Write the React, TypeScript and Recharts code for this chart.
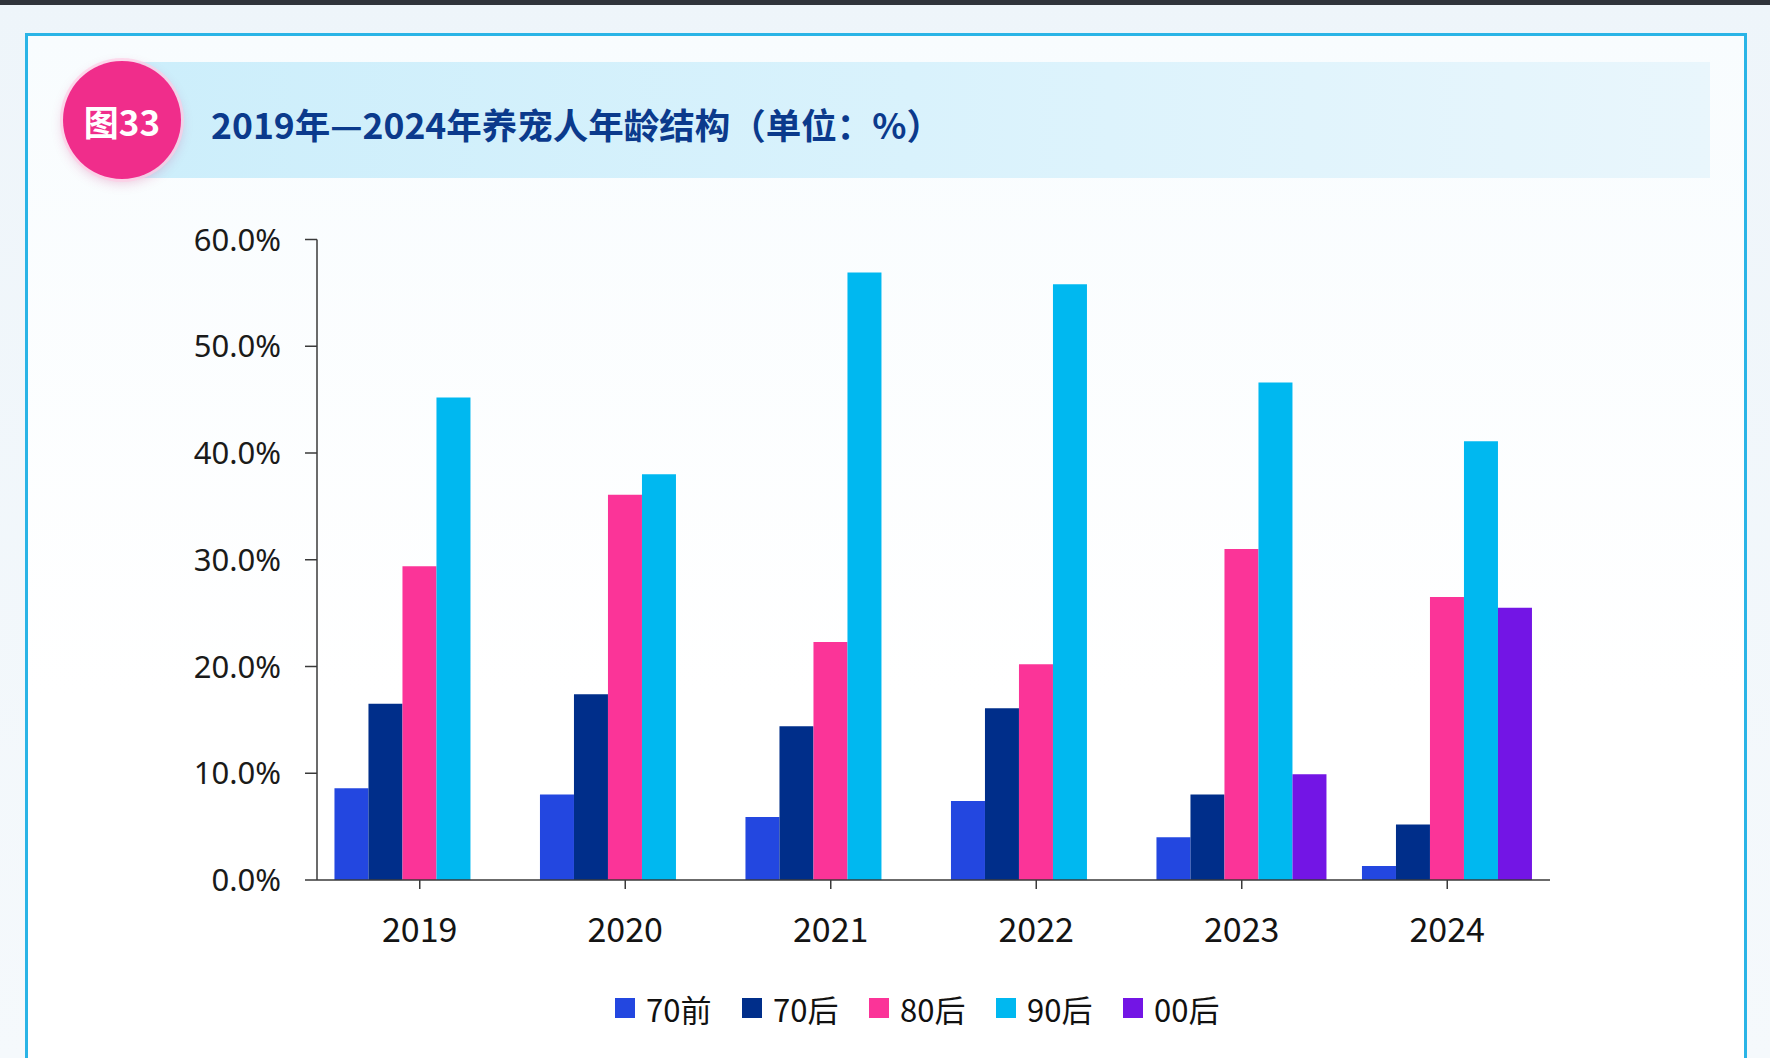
import React from 'react';
import { Bar, BarChart, XAxis, YAxis } from 'recharts';

const years = ['2019', '2020', '2021', '2022', '2023', '2024'];
const pre70 = [8.6, 8.0, 5.9, 7.4, 4.0, 1.3];
const post70 = [16.5, 17.4, 14.4, 16.1, 8.0, 5.2];
const post80 = [29.4, 36.1, 22.3, 20.2, 31.0, 26.5];
const post90 = [45.2, 38.0, 56.9, 55.8, 46.6, 41.1];
const post00 = [null, null, null, null, 9.9, 25.5];

const seriesNames = ['70前', '70后', '80后', '90后', '00后'];
const seriesColors = ['#2347E0', '#002E8A', '#FB3498', '#00B8F0', '#7315E5'];
const yTicks = [0, 10, 20, 30, 40, 50, 60];

const W = 1770;
const H = 1058;
const CJK = '"Noto Sans CJK SC", "Noto Sans", sans-serif';

const seriesValues = [pre70, post70, post80, post90, post00];
const data = years.map((year, i) => {
  const row: Record<string, string | number | null> = { year };
  seriesNames.forEach((name, s) => {
    row[name] = seriesValues[s][i];
  });
  return row;
});

// boundaries between year groups, drawn as longer ticks on a hidden numeric axis
const edgeTicks = years.map((_, i) => i).concat(years.length);

const YearTick = ({ x, y, payload }: any) => (
  <text
    x={x}
    y={y + 51}
    textAnchor="middle"
    fontSize={34}
    fontFamily={CJK}
    fill="#141414"
  >
    {payload.value}
  </text>
);

const NoLabel = () => <g />;

export default function App() {
  return (
    <div
      style={{
        position: 'absolute',
        left: 0,
        top: 0,
        width: W,
        height: H,
        overflow: 'hidden',
        background: 'linear-gradient(180deg, #EEF5FA 0%, #F5F9FC 100%)',
        fontFamily: CJK,
      }}
    >
      <div style={{ position: 'absolute', left: 0, top: 0, width: W, height: 5, background: '#30343B' }} />
      <div
        style={{
          position: 'absolute',
          left: 25,
          top: 33,
          width: 1716,
          height: 1100,
          border: '3px solid #2AB4E6',
          background: 'linear-gradient(180deg, #F8FCFE 0%, #FFFFFF 60%)',
        }}
      />
      <div
        style={{
          position: 'absolute',
          left: 110,
          top: 62,
          width: 1600,
          height: 116,
          background: 'linear-gradient(90deg, #CCEEFB 0%, #D9F2FC 50%, #E9F6FC 100%)',
        }}
      />
      <div
        style={{
          position: 'absolute',
          left: 63,
          top: 61,
          width: 118,
          height: 118,
          borderRadius: '50%',
          background: '#F02D8B',
          boxShadow: '0 0 0 3px rgba(255, 205, 230, 0.7), 0 4px 12px rgba(200, 40, 120, 0.25)',
          display: 'flex',
          alignItems: 'center',
          justifyContent: 'center',
          color: '#FFFFFF',
          fontWeight: 700,
          fontSize: 35,
        }}
      >
        图33
      </div>
      <div
        style={{
          position: 'absolute',
          left: 211,
          top: 100,
          fontSize: 35.5,
          fontWeight: 700,
          color: '#0B3A8C',
          lineHeight: '48px',
          whiteSpace: 'nowrap',
        }}
      >
        2019年—2024年养宠人年龄结构（单位：%）
      </div>

      <div style={{ position: 'absolute', left: 0, top: 0 }}>
        <BarChart
          width={W}
          height={H}
          data={data}
          margin={{ top: 239.5, right: 220, bottom: 118, left: 0 }}
          barCategoryGap="8.5%"
          barGap={0}
        >
          <XAxis
            xAxisId="edges"
            type="number"
            domain={[0, years.length]}
            ticks={edgeTicks}
            allowDataOverflow
            height={0}
            axisLine={false}
            tick={NoLabel}
            tickSize={12}
            tickLine={{ stroke: '#3A3A3A', strokeWidth: 1.5 }}
          />
          <XAxis
            xAxisId="year"
            dataKey="year"
            height={60}
            axisLine={{ stroke: '#3A3A3A', strokeWidth: 1.5 }}
            tickLine={{ stroke: '#3A3A3A', strokeWidth: 1.5 }}
            tickSize={9}
            tick={YearTick}
          />
          <YAxis
            width={317}
            domain={[0, 60]}
            ticks={yTicks}
            interval={0}
            axisLine={{ stroke: '#3A3A3A', strokeWidth: 1.5 }}
            tickLine={{ stroke: '#3A3A3A', strokeWidth: 1.5 }}
            tickSize={12}
            tickMargin={24}
            tickFormatter={(v: number) => `${v.toFixed(1)}%`}
            tick={{ fontSize: 31, fill: '#1A1A1A', fontFamily: '"Noto Sans", sans-serif' }}
          />
          {seriesNames.map((name, s) => (
            <Bar
              key={name}
              xAxisId="year"
              dataKey={name}
              fill={seriesColors[s]}
              isAnimationActive={false}
            />
          ))}
        </BarChart>
      </div>

      {seriesNames.map((name, s) => (
        <div
          key={name}
          style={{
            position: 'absolute',
            left: 615 + s * 127,
            top: 988,
            height: 40,
            display: 'flex',
            alignItems: 'center',
            fontSize: 31,
            color: '#111111',
            whiteSpace: 'nowrap',
          }}
        >
          <span style={{ width: 20, height: 20, background: seriesColors[s], marginRight: 11, display: 'inline-block' }} />
          {name}
        </div>
      ))}
    </div>
  );
}
